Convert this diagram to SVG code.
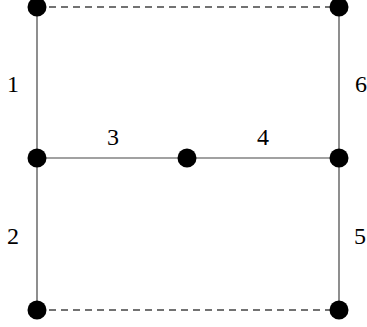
<svg xmlns="http://www.w3.org/2000/svg" width="367" height="327" viewBox="0 0 367 327">
<style>
.e{stroke:#444;stroke-width:1.2;fill:none}
.d{stroke:#444;stroke-width:1.3;fill:none;stroke-dasharray:7 5}
.n{fill:#000}
.t{font-family:"Liberation Serif","DejaVu Serif",serif;font-size:24px;fill:#000;text-anchor:middle}
</style>
<rect width="367" height="327" fill="#fff"/>
<g id="connectors">
<line class="d" x1="37" y1="7" x2="339" y2="7"/>
<line class="d" x1="37" y1="310" x2="339" y2="310"/>
<line class="e" x1="37" y1="7" x2="37" y2="158"/>
<line class="e" x1="37" y1="158" x2="37" y2="310"/>
<line class="e" x1="37" y1="158" x2="187" y2="158"/>
<line class="e" x1="187" y1="158" x2="339" y2="158"/>
<line class="e" x1="339" y1="158" x2="339" y2="310"/>
<line class="e" x1="339" y1="7" x2="339" y2="158"/>
</g>
<g id="labels">
<text class="t" x="13" y="92">1</text>
<text class="t" x="13" y="244">2</text>
<text class="t" x="113" y="145">3</text>
<text class="t" x="263" y="145">4</text>
<text class="t" x="360" y="244">5</text>
<text class="t" x="361" y="92">6</text>
</g>
<g id="n1"><circle class="n" cx="37" cy="7" r="9.5"/></g>
<g id="n2"><circle class="n" cx="339" cy="7" r="9.5"/></g>
<g id="n3"><circle class="n" cx="37" cy="158" r="9.5"/></g>
<g id="n4"><circle class="n" cx="187" cy="158" r="9.5"/></g>
<g id="n5"><circle class="n" cx="339" cy="158" r="9.5"/></g>
<g id="n6"><circle class="n" cx="37" cy="310" r="9.5"/></g>
<g id="n7"><circle class="n" cx="339" cy="310" r="9.5"/></g>
</svg>
